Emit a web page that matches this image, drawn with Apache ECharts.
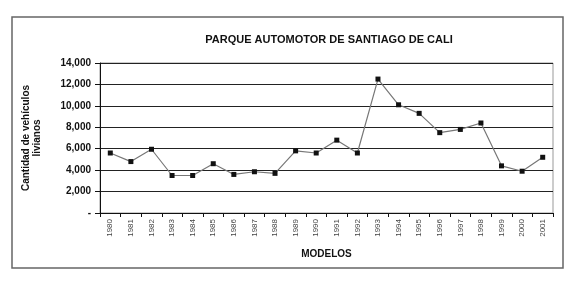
<!DOCTYPE html>
<html>
<head>
<meta charset="utf-8">
<script src="https://cdn.jsdelivr.net/npm/echarts@6/dist/echarts.min.js"></script>
<style>
  html, body { margin: 0; padding: 0; background: #fff; }
  #chart { width: 580px; height: 284px; }
</style>
</head>
<body>
<div id="chart"></div>
<script>
var years = ['1980', '1981', '1982', '1983', '1984', '1985', '1986', '1987', '1988', '1989', '1990',
  '1991', '1992', '1993', '1994', '1995', '1996', '1997', '1998', '1999', '2000', '2001'];
var vehiculos = [5600, 4800, 5950, 3500, 3500, 4600, 3600, 3850, 3700, 5800, 5600,
  6800, 5600, 12500, 10100, 9300, 7500, 7800, 8400, 4400, 3900, 5200];
var yTicks = [0, 2000, 4000, 6000, 8000, 10000, 12000, 14000];

function fmtTick(v) {
  if (v === 0) return '-';
  return v.toLocaleString('en-US');
}

var myChart = echarts.init(document.getElementById('chart'));
var option = {
  animation: false,
  textStyle: { fontFamily: 'Liberation Sans, Arial, sans-serif' },
  title: {
    text: 'PARQUE AUTOMOTOR DE SANTIAGO DE CALI',
    left: 324,
    top: 29,
    textAlign: 'center',
    textStyle: { fontSize: 11, fontWeight: 'bold', color: '#111', fontFamily: 'Liberation Sans, Arial, sans-serif' }
  },
  graphic: [{
    type: 'rect',
    shape: { x: 12, y: 17, width: 551, height: 251 },
    style: { fill: 'none', stroke: '#666', lineWidth: 1.5 },
    silent: true
  }],
  grid: {
    left: 100,
    right: 27,
    top: 63,
    bottom: 71,
    show: true,
    borderColor: '#999',
    borderWidth: 1,
    backgroundColor: '#fff'
  },
  xAxis: {
    type: 'category',
    data: years,
    boundaryGap: true,
    name: 'MODELOS',
    nameLocation: 'middle',
    nameGap: 36,
    nameTextStyle: { fontSize: 10, fontWeight: 'bold', color: '#111' },
    axisLine: { lineStyle: { color: '#111', width: 1 } },
    axisTick: { show: true, alignWithLabel: false, length: 4, lineStyle: { color: '#111' } },
    axisLabel: { rotate: 90, fontSize: 8, color: '#444', margin: 6 },
    splitLine: { show: false }
  },
  yAxis: {
    type: 'value',
    min: 0,
    max: 14000,
    interval: 2000,
    name: 'Cantidad de vehículos\nlivianos',
    nameLocation: 'middle',
    nameGap: 57,
    nameRotate: 90,
    nameTextStyle: { fontSize: 10, fontWeight: 'bold', color: '#111', lineHeight: 11 },
    axisLine: { show: true, lineStyle: { color: '#111', width: 1 } },
    axisTick: { show: true, length: 5, lineStyle: { color: '#111' } },
    axisLabel: {
      fontSize: 10,
      fontWeight: 'bold',
      color: '#111',
      margin: 9,
      formatter: function (v) { return yTicks.indexOf(v) >= 0 ? fmtTick(v) : ''; }
    },
    splitLine: { show: true, lineStyle: { color: '#222', width: 1 } }
  },
  series: [{
    name: 'Vehículos livianos',
    type: 'line',
    data: vehiculos,
    symbol: 'rect',
    symbolSize: 5,
    itemStyle: { color: '#111' },
    lineStyle: { color: '#777', width: 1.2 }
  }]
};
myChart.setOption(option, true);
</script>
</body>
</html>
